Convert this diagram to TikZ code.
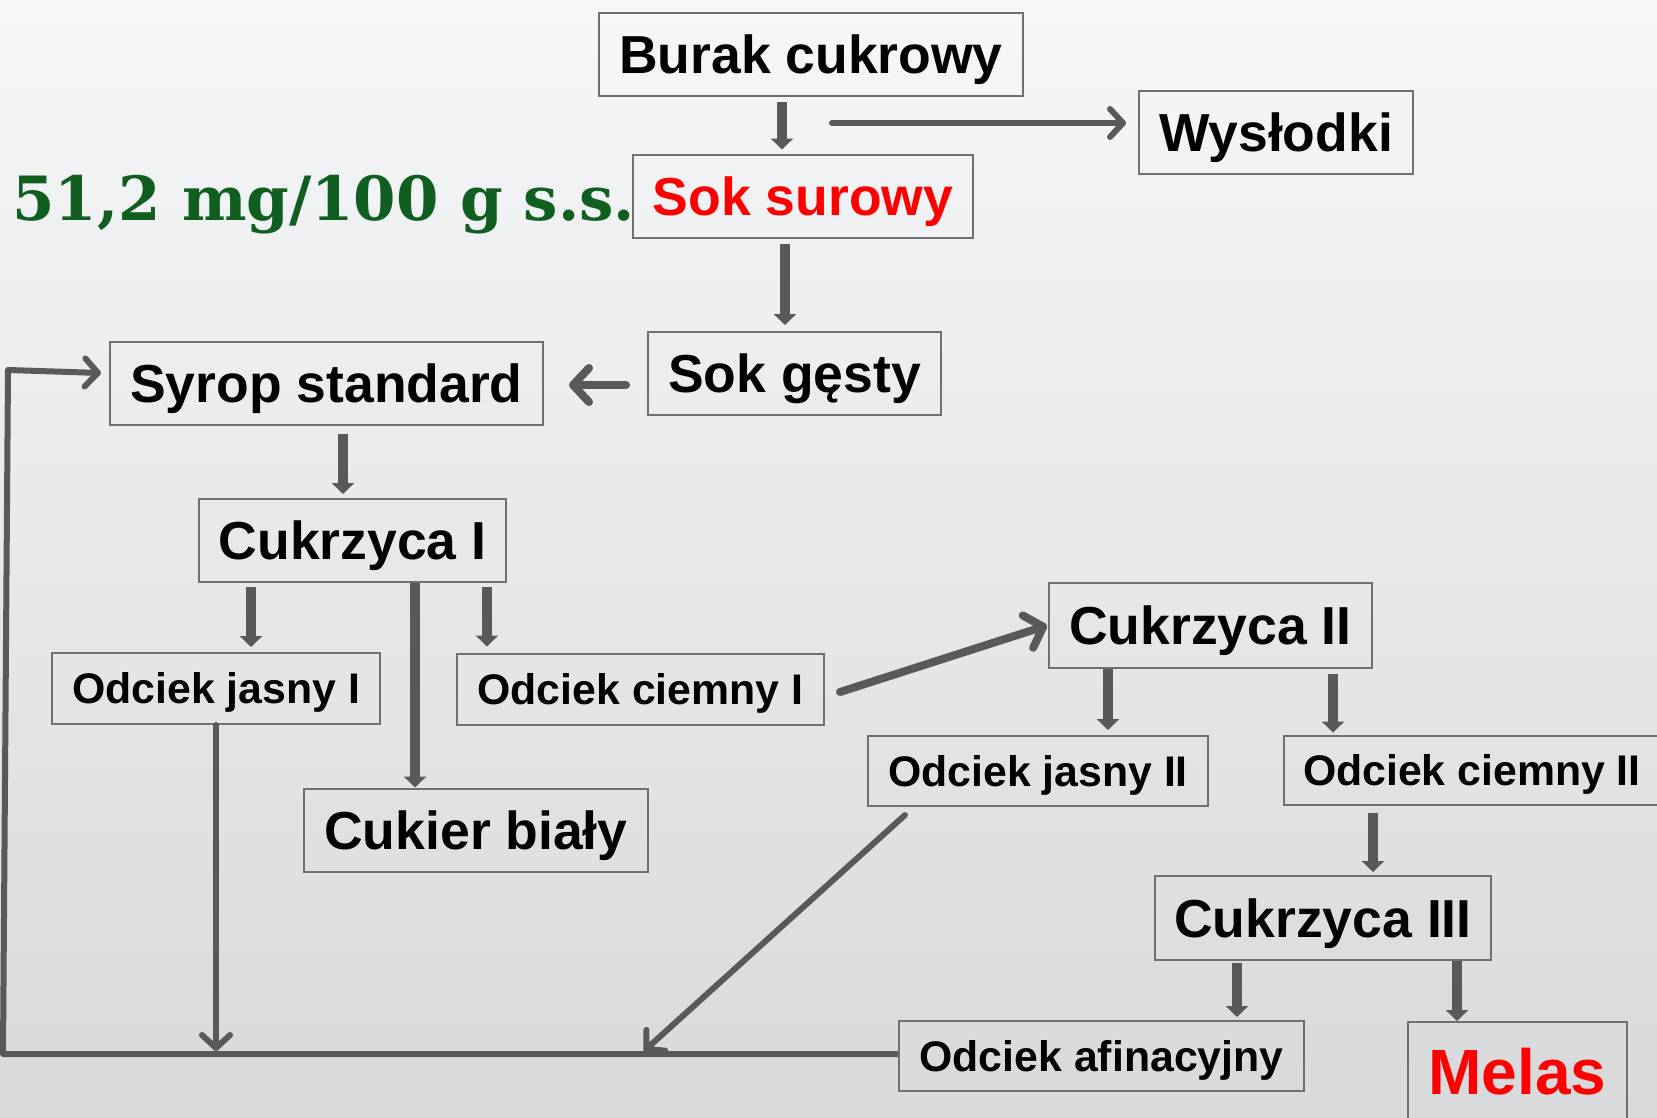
\documentclass[tikz,border=0pt]{standalone}
\usepackage{fontspec}
\newfontfamily\arial{Liberation Sans}
\newfontfamily\dvserif{DejaVu Serif}
\usetikzlibrary{arrows.meta}
\definecolor{bgtop}{RGB}{246,247,248}
\definecolor{bgbot}{RGB}{216,217,219}
\definecolor{boxgray}{RGB}{112,112,112}
\definecolor{arrgray}{RGB}{89,89,89}
\definecolor{dkgreen}{RGB}{16,94,32}
\definecolor{melred}{RGB}{255,0,0}
\begin{document}
\begin{tikzpicture}[x=1pt,y=-1pt,
  box/.style={draw=boxgray, line width=2pt, inner sep=0pt, text=black},
  big/.style={box, font=\arial\bfseries\fontsize{53.5}{60}\selectfont, minimum height=83pt,
    text height=38pt, text depth=0pt},
  small/.style={box, font=\arial\bfseries\fontsize{42.8}{50}\selectfont, minimum height=71pt,
    text height=30.6pt, text depth=0pt},
  blk/.style={draw=arrgray, line width=10pt, -{Triangle[width=22pt,length=11pt]}, arrgray},
  opn/.style={draw=arrgray, line width=6pt, line cap=round, line join=round,
    -{Straight Barb[length=13pt,width=28pt,round]}},
  opnbig/.style={draw=arrgray, line width=8pt, line cap=round, line join=round,
    -{Straight Barb[length=16pt,width=34pt,round]}}
]
\useasboundingbox (0,0) rectangle (1657,1117);
\shade[top color=bgtop, bottom color=bgbot] (0,0) rectangle (1657,1117);

% nodes
\node[big, minimum width=424pt] (burak) at (811,54.5) {Burak cukrowy};
\node[big, minimum width=274pt] (wys) at (1276,132.5) {Wysłodki};
\node[big, minimum width=340pt, text=melred] (soksur) at (803,196) {Sok surowy};
\node[big, minimum width=293pt] (sokg) at (794.5,373.5) {Sok gęsty};
\node[big, minimum width=433pt] (syrop) at (326.5,383) {Syrop standard};
\node[big, minimum width=307pt] (cuk1) at (352.5,540.5) {Cukrzyca I};
\node[small, minimum width=328pt] (oj1) at (216,688.5) {Odciek jasny I};
\node[small, minimum width=367pt] (oc1) at (640.5,689) {Odciek ciemny I};
\node[big, minimum width=344pt] (cb) at (476,830) {Cukier biały};
\node[big, minimum width=323pt, minimum height=85pt] (cuk2) at (1210.5,625.5) {Cukrzyca II};
\node[small, minimum width=340pt, minimum height=70pt] (oj2) at (1038,771) {Odciek jasny II};
\node[small, minimum height=69pt, anchor=west, inner xsep=19pt] (oc2) at (1283,770)
  {Odciek ciemny II\hspace{20pt}};
\node[big, minimum width=336pt, minimum height=84pt] (cuk3) at (1323,918) {Cukrzyca III};
\node[small, minimum width=405pt, minimum height=70pt] (oaf) at (1101.5,1056) {Odciek afinacyjny};
\node[draw=boxgray, line width=2pt, anchor=north, minimum width=219pt,
  inner xsep=0pt, inner ysep=26pt, text height=46pt, text depth=70pt,
  text=melred, font=\arial\bfseries\fontsize{64}{70}\selectfont] (melas) at (1517.5,1021) {Melas};

\node[anchor=base west, inner sep=0pt, text=dkgreen,
  font=\dvserif\bfseries\fontsize{61}{66}\selectfont] (val) at (12,220) {51,2 mg/100 g s.s.};

% coordinates
\coordinate (wstart) at (832,123);
\coordinate (bl) at (3,1054);
\coordinate (tl) at (8,370);
\coordinate (j1) at (216,1051);
\coordinate (j2) at (644,1051);

% block arrows
\draw[blk] ([xshift=-29pt,yshift=-5pt]burak.south) -- ([xshift=-21pt,yshift=4pt]soksur.north);
\draw[blk] ([xshift=-18pt,yshift=-5pt]soksur.south) -- ([xshift=-9.5pt,yshift=6pt]sokg.north);
\draw[blk] ([xshift=16.5pt,yshift=-8pt]syrop.south) -- ([xshift=-9.5pt,yshift=4pt]cuk1.north);
\draw[blk] ([xshift=-101.5pt,yshift=-4pt]cuk1.south) -- ([xshift=35pt,yshift=5pt]oj1.north);
\draw[blk] ([xshift=134.5pt,yshift=-4pt]cuk1.south) -- ([xshift=-153.5pt,yshift=6pt]oc1.north);
\draw[blk] ([xshift=62.5pt]cuk1.south) -- ([xshift=-61pt]cb.north);
\draw[blk] ([xshift=-102.5pt]cuk2.south) -- ([xshift=70pt,yshift=5pt]oj2.north);
\draw[blk] ([xshift=122.5pt,yshift=-5pt]cuk2.south) -- ([xshift=50pt,yshift=2pt]oc2.north west);
\draw[blk] ([xshift=90pt,yshift=-7pt]oc2.south west) -- ([xshift=50pt,yshift=3pt]cuk3.north);
\draw[blk] ([xshift=-86pt,yshift=-2pt]cuk3.south) -- ([xshift=135.5pt,yshift=3pt]oaf.north);
\draw[blk] ([xshift=134pt]cuk3.south) -- ([xshift=-60.5pt]melas.north);

% open arrows
\draw[opn] (wstart) -- ([xshift=-12pt,yshift=9.5pt]wys.west);
\draw[opnbig] ([xshift=-21pt,yshift=-11.5pt]sokg.west) -- ([xshift=25pt,yshift=-2pt]syrop.east);
\draw[opnbig] ([xshift=15pt,yshift=-3pt]oc1.east) -- ([xshift=-1pt]cuk2.west);
\draw[opn] (oj1.south) -- (j1);
\draw[opn] ([xshift=-133pt,yshift=-8pt]oj2.south) -- (j2);
\draw[opn, line cap=butt] ([yshift=2pt]oaf.west) -- (bl) -- (tl) -- ([xshift=-8pt,yshift=10pt]syrop.west);
\end{tikzpicture}
\end{document}
